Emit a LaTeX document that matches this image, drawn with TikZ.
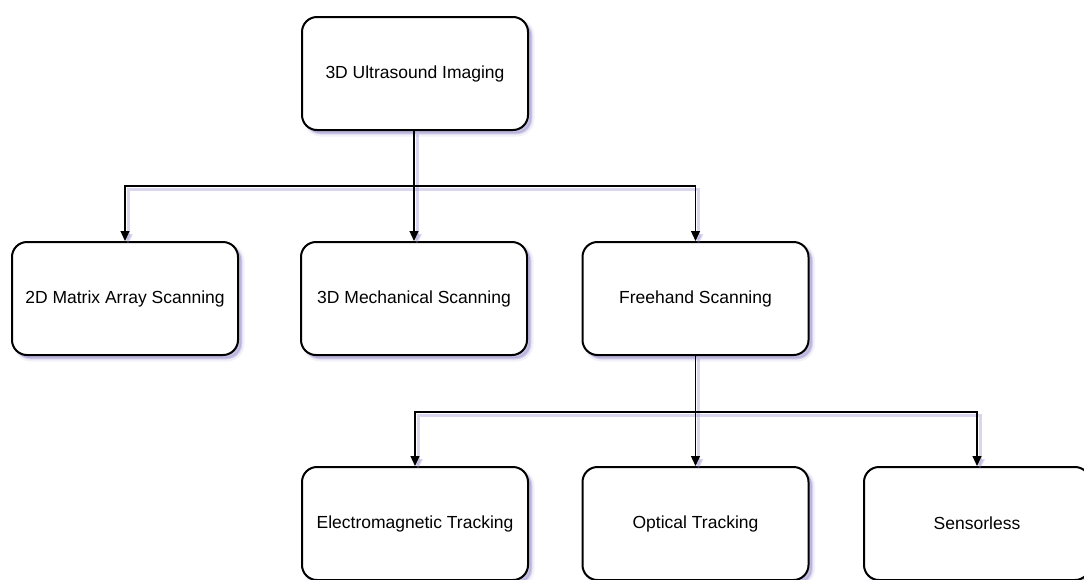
\documentclass[tikz,border=0pt]{standalone}
\usepackage{fontspec}
\setmainfont{Liberation Sans}
\usetikzlibrary{arrows.meta,shadows}
\definecolor{shc}{RGB}{150,140,205}
\tikzset{
  softshadow/.style={
    general shadow={shadow xshift=4pt, shadow yshift=-4pt, draw=shc, fill=shc, line width=5pt, opacity=0.12},
    general shadow={shadow xshift=3.5pt, shadow yshift=-3.5pt, draw=shc, fill=shc, line width=2pt, opacity=0.22},
    general shadow={shadow xshift=3pt, shadow yshift=-3pt, fill=shc, opacity=0.35}},
  stepbox/.style={draw=black, fill=white, line width=2pt, rounded corners=15pt,
    minimum width=226pt, minimum height=113pt, inner sep=0pt, align=center,
    font=\fontsize{17.5}{21}\selectfont, softshadow},
  conn/.style={draw=black, line width=1.2pt,
    preaction={draw=shc, line width=3pt, opacity=0.35, transform canvas={shift={(3pt,-3pt)}}}},
  arr/.style={conn, -{Triangle[width=9pt,length=10pt]}}
}
\begin{document}
\begin{tikzpicture}[x=1pt,y=-1pt]
  \useasboundingbox (0,0) rectangle (1084,579);
  \fill[white] (0,0) rectangle (1084,579);
  \clip (0,0) rectangle (1084,579);

  % root
  \node[stepbox] (root) at (415,73.5) {3D Ultrasound Imaging};

  % acquisition approaches
  \node[stepbox] (matrix) at (125,298.5) {2D Matrix Array Scanning};
  \node[stepbox] (mech)   at (414,298.5) {3D Mechanical Scanning};
  \node[stepbox] (free)   at (695.5,298.5) {Freehand Scanning};

  % freehand tracking methods
  \node[stepbox] (em)     at (415,523.5) {Electromagnetic Tracking};
  \node[stepbox] (opt)    at (695.5,523.5) {Optical Tracking};
  \node[stepbox] (sless)  at (977,523.5) {Sensorless};

  % branch junctions
  \coordinate (j1) at (414,186);
  \coordinate (j2) at (695.5,412);

  \draw[conn] (root.south -| j1) -- (j1);
  \draw[arr] (j1) -| (matrix.north);
  \draw[arr] (j1) -- (mech.north);
  \draw[arr] (j1) -| (free.north);

  \draw[conn] (free.south) -- (j2);
  \draw[arr] (j2) -| (em.north);
  \draw[arr] (j2) -- (opt.north);
  \draw[arr] (j2) -| (sless.north);
\end{tikzpicture}
\end{document}
